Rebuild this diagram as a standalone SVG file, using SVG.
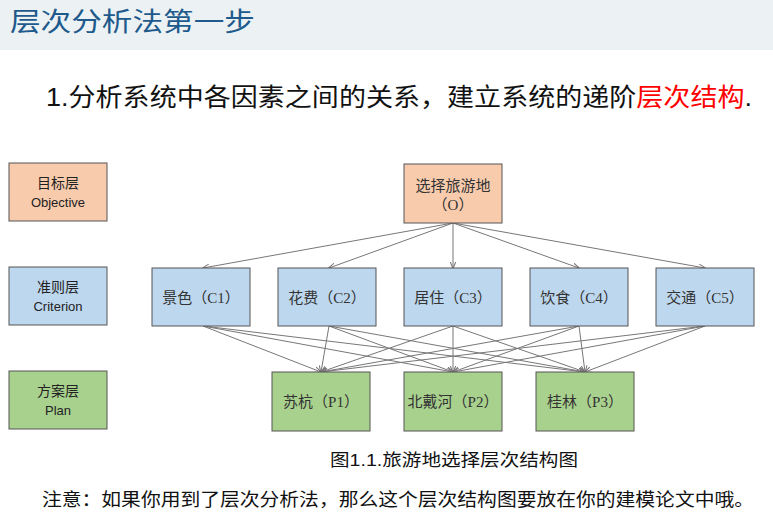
<svg xmlns="http://www.w3.org/2000/svg" width="773" height="518" viewBox="0 0 773 518">
<defs>
<marker id="ah" viewBox="0 0 10 10" refX="9" refY="5" markerWidth="7" markerHeight="7" orient="auto"><path d="M0,1 L10,5 L0,9" fill="none" stroke="#777" stroke-width="1.5"/></marker>
<style>
text{font-family:"Liberation Sans","Noto Sans CJK SC",sans-serif;}
.b{stroke:#555;stroke-width:1}
.o{fill:#f8cbad}.c{fill:#bdd7ee}.p{fill:#a9d18e}
.n{font-size:15px;fill:#333;text-anchor:middle;font-family:"Liberation Serif","Noto Sans CJK SC",serif}
.l{font-size:14px;fill:#222;text-anchor:middle}
.e{font-size:13px;fill:#222;text-anchor:middle}
#conn line{stroke:#777;stroke-width:1;marker-end:url(#ah)}
</style>
</defs>
<rect width="773" height="518" fill="#fff"/>
<rect width="773" height="50" fill="#ecf2f3"/>
<text x="10" y="31" font-size="26" fill="#1f5a8c" font-family="Noto Sans CJK SC,serif" textLength="245" lengthAdjust="spacingAndGlyphs">层次分析法第一步</text>
<text x="46" y="106" font-size="25" fill="#111" textLength="706" lengthAdjust="spacingAndGlyphs">1.分析系统中各因素之间的关系，建立系统的递阶<tspan fill="#ff0000">层次结构</tspan>.</text>
<g id="legend-objective"><rect class="b o" x="9" y="163" width="98" height="58"/><text class="l" x="58" y="188">目标层</text><text class="e" x="58" y="207">Objective</text></g>
<g id="legend-criterion"><rect class="b c" x="9" y="267" width="98" height="58"/><text class="l" x="58" y="292">准则层</text><text class="e" x="58" y="311">Criterion</text></g>
<g id="legend-plan"><rect class="b p" x="9" y="371" width="98" height="58"/><text class="l" x="58" y="396">方案层</text><text class="e" x="58" y="415">Plan</text></g>
<g id="conn">
<line x1="453" y1="223" x2="203" y2="268"/><line x1="453" y1="223" x2="329" y2="268"/><line x1="453" y1="223" x2="453" y2="268"/><line x1="453" y1="223" x2="579" y2="268"/><line x1="453" y1="223" x2="705" y2="268"/>
<line x1="203" y1="326" x2="321" y2="372"/><line x1="203" y1="326" x2="453" y2="372"/><line x1="203" y1="326" x2="585" y2="372"/>
<line x1="329" y1="326" x2="321" y2="372"/><line x1="329" y1="326" x2="453" y2="372"/><line x1="329" y1="326" x2="585" y2="372"/>
<line x1="453" y1="326" x2="321" y2="372"/><line x1="453" y1="326" x2="453" y2="372"/><line x1="453" y1="326" x2="585" y2="372"/>
<line x1="579" y1="326" x2="321" y2="372"/><line x1="579" y1="326" x2="453" y2="372"/><line x1="579" y1="326" x2="585" y2="372"/>
<line x1="705" y1="326" x2="321" y2="372"/><line x1="705" y1="326" x2="453" y2="372"/><line x1="705" y1="326" x2="585" y2="372"/>
</g>
<g id="O"><rect class="b o" x="404" y="164" width="98" height="59"/><text class="n" x="453" y="191">选择旅游地</text><text class="n" x="453" y="210">（O）</text></g>
<g id="C1"><rect class="b c" x="152" y="268" width="98" height="58"/><text class="n" x="201" y="303">景色（C1）</text></g>
<g id="C2"><rect class="b c" x="278" y="268" width="98" height="58"/><text class="n" x="327" y="303">花费（C2）</text></g>
<g id="C3"><rect class="b c" x="404" y="268" width="98" height="58"/><text class="n" x="453" y="303">居住（C3）</text></g>
<g id="C4"><rect class="b c" x="530" y="268" width="98" height="58"/><text class="n" x="579" y="303">饮食（C4）</text></g>
<g id="C5"><rect class="b c" x="656" y="268" width="98" height="58"/><text class="n" x="705" y="303">交通（C5）</text></g>
<g id="P1"><rect class="b p" x="272" y="372" width="98" height="59"/><text class="n" x="321" y="407">苏杭（P1）</text></g>
<g id="P2"><rect class="b p" x="404" y="372" width="98" height="59"/><text class="n" x="453" y="407">北戴河（P2）</text></g>
<g id="P3"><rect class="b p" x="536" y="372" width="98" height="59"/><text class="n" x="585" y="407">桂林（P3）</text></g>
<text x="330" y="466" font-size="17" fill="#111" textLength="248" lengthAdjust="spacingAndGlyphs">图1.1.旅游地选择层次结构图</text>
<text x="42" y="506" font-size="18" fill="#111" textLength="712" lengthAdjust="spacingAndGlyphs">注意：如果你用到了层次分析法，那么这个层次结构图要放在你的建模论文中哦。</text>
</svg>
